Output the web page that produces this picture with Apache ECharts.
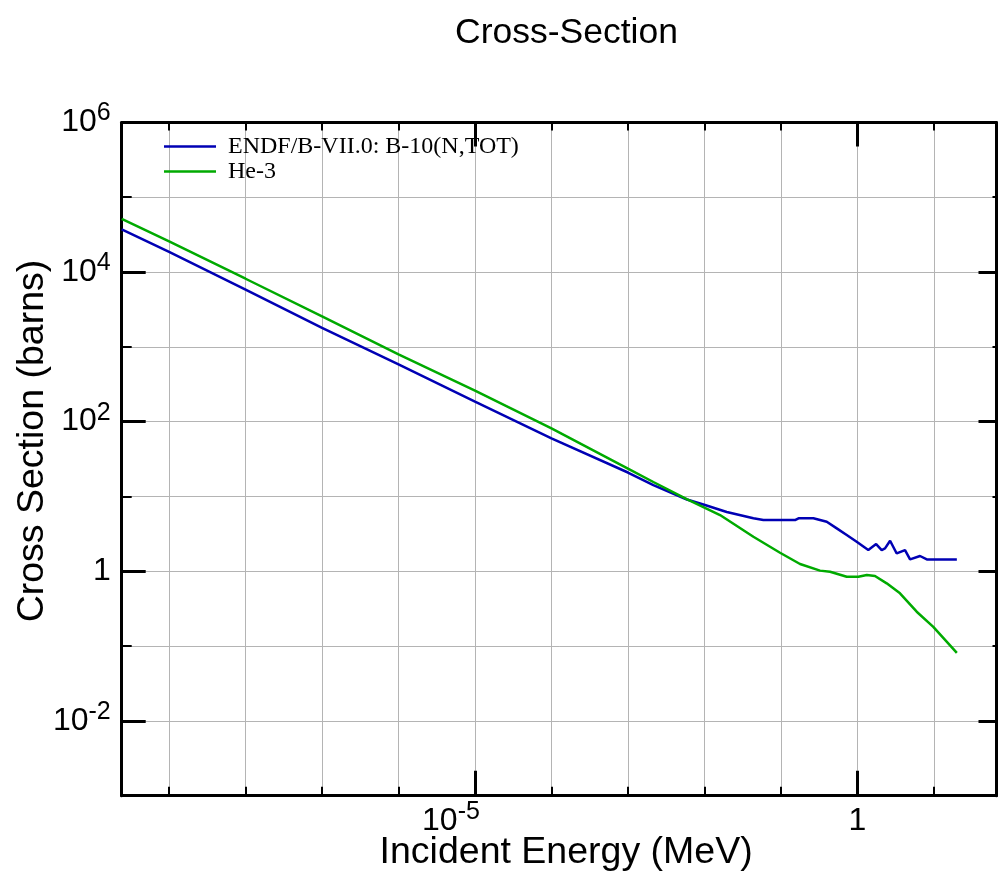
<!DOCTYPE html>
<html>
<head>
<meta charset="utf-8">
<title>Cross-Section</title>
<script src="https://cdn.jsdelivr.net/npm/echarts@6/dist/echarts.min.js"></script>
<style>
  html, body { margin: 0; padding: 0; background: #ffffff; }
  #chart { width: 998px; height: 877px; }
</style>
</head>
<body>
<div id="chart"></div>
<script>
// Incident energy (MeV) and total cross section (barns) for each curve
const energyB10 = [2.4e-10, 1e-9, 1e-8, 1e-7, 1e-6, 1e-5, 1e-4, 1e-3, 2.15e-3, 5.9e-3, 9.7e-3, 1.96e-2, 4.37e-2, 5.9e-2,
  0.153, 0.17, 0.266, 0.398, 0.538, 0.726, 0.98, 1.39, 1.76, 2.08, 2.3, 2.68, 3.27, 4.2, 4.89, 6.6, 8.1, 20];
const sigmaB10 = [37200, 18600, 5800, 1790, 583, 185, 59.6, 20.9, 14.2, 9.1, 7.8, 6.2, 5.1, 4.83,
  4.83, 5.1, 5.1, 4.59, 3.74, 3.05, 2.48, 1.92, 2.31, 1.92, 2.02, 2.56, 1.73, 1.92, 1.44, 1.6, 1.44, 1.44];

const energyHe3 = [2.4e-10, 1e-9, 1e-8, 1e-7, 1e-6, 1e-5, 1e-4, 1e-3, 2.15e-3, 5.87e-3, 1.6e-2, 4.37e-2, 9.75e-2,
  0.178, 0.325, 0.44, 0.726, 1.03, 1.33, 1.70, 2.42, 3.61, 5.97, 9.84, 20];
const sigmaHe3 = [51200, 25600, 8130, 2560, 794, 259, 81.3, 23.6, 15.6, 9.2, 5.64, 2.89, 1.77,
  1.25, 1.02, 0.985, 0.843, 0.843, 0.889, 0.863, 0.689, 0.507, 0.288, 0.181, 0.081];

const seriesNames = ['ENDF/B-VII.0: B-10(N,TOT)', 'He-3'];
const seriesColors = ['#0000b4', '#00aa00'];

// Axis ranges and tick positions
const xMin = 2.4e-10, xMax = 66;
const yMin = 1e-3, yMax = 1e6;
const xDecades = [1e-9, 1e-8, 1e-7, 1e-6, 1e-5, 1e-4, 1e-3, 1e-2, 1e-1, 1, 10];
const xLabelTicks = [1e-5, 1];
const yDecades = [1e-3, 1e-2, 1e-1, 1, 10, 1e2, 1e3, 1e4, 1e5, 1e6];
const yLabelTicks = [1e-2, 1, 1e2, 1e4, 1e6];

const FONT = '"Liberation Sans", Arial, Helvetica, sans-serif';
const SERIF = '"Liberation Serif", "Times New Roman", serif';

function pairs(xs, ys) {
  return xs.map((x, i) => [x, ys[i]]);
}

// "10" with a raised exponent; plain "1" for 10^0
function powerLabel(v, trailingGap) {
  const e = Math.round(Math.log10(v));
  if (e === 0) return '{b|1}';
  return '{b|10}{s|' + e + '}' + (trailingGap ? '{g|}' : '');
}

const richLabel = {
  b: { fontSize: 32, fontFamily: FONT, color: '#000', lineHeight: 34, padding: [9, 0, 9, 0] },
  s: { fontSize: 25, fontFamily: FONT, color: '#000', lineHeight: 34, padding: [0, 0, 18, 0] },
  g: { width: 48 }
};

const gridLine = { show: true, lineStyle: { color: '#b4b4b4', width: 1 } };
const blackLine = { show: true, lineStyle: { color: '#000', width: 3 } };

function axisDef(kind, position, values, tickLen, tickWidth, opts) {
  return Object.assign({
    type: 'log', logBase: 10,
    min: kind === 'x' ? xMin : yMin,
    max: kind === 'x' ? xMax : yMax,
    position: position,
    axisLine: { show: false },
    axisTick: { show: true, inside: true, length: tickLen, customValues: values,
      lineStyle: { color: '#000', width: tickWidth } },
    axisLabel: { show: false },
    splitLine: { show: false },
    minorTick: { show: false }, minorSplitLine: { show: false }
  }, opts || {});
}

const chart = echarts.init(document.getElementById('chart'), null, { renderer: 'canvas' });

chart.setOption({
  backgroundColor: '#ffffff',
  animation: false,
  title: {
    text: 'Cross-Section',
    left: 450, top: 10,
    textStyle: { fontFamily: FONT, fontSize: 35.5, fontWeight: 'normal', color: '#000' }
  },
  legend: {
    orient: 'vertical',
    left: 159, top: 129,
    padding: 5,
    itemWidth: 52, itemHeight: 2.5, itemGap: 0,
    icon: 'rect',
    data: seriesNames,
    textStyle: { fontFamily: SERIF, fontSize: 24, color: '#000', lineHeight: 23, padding: [0, 0, 2, 7] }
  },
  grid: { left: 121.7, right: 1.5, top: 122.4, bottom: 81.3, containLabel: false },
  xAxis: [
    // bottom: decade grid lines and short ticks
    axisDef('x', 'bottom', xDecades, 9, 2, {
      axisLine: blackLine, splitLine: gridLine,
      name: 'Incident Energy (MeV)', nameLocation: 'middle', nameGap: 38,
      nameTextStyle: { fontFamily: FONT, fontSize: 37.5, color: '#000', padding: [0, 0, 0, 14] }
    }),
    // bottom: labelled long ticks
    axisDef('x', 'bottom', xLabelTicks, 25, 3, {
      axisLabel: { show: true, customValues: xLabelTicks, margin: 8,
        formatter: (v) => powerLabel(v, true), rich: richLabel }
    }),
    // top mirror
    axisDef('x', 'top', xDecades, 8, 2, { axisLine: blackLine }),
    axisDef('x', 'top', xLabelTicks, 24, 3)
  ],
  yAxis: [
    // left: decade grid lines and short ticks
    axisDef('y', 'left', yDecades, 10, 2, {
      axisLine: blackLine, splitLine: gridLine,
      name: 'Cross Section (barns)', nameLocation: 'middle', nameGap: 70,
      nameTextStyle: { fontFamily: FONT, fontSize: 37.5, color: '#000', padding: [0, 0, 0, 36] }
    }),
    // left: labelled long ticks
    axisDef('y', 'left', yLabelTicks, 24, 3, {
      axisLabel: { show: true, customValues: yLabelTicks, margin: 11,
        formatter: (v) => powerLabel(v, false), rich: richLabel }
    }),
    // right mirror
    axisDef('y', 'right', yDecades, 4, 2, { axisLine: blackLine }),
    axisDef('y', 'right', yLabelTicks, 18, 3)
  ],
  series: [
    {
      name: seriesNames[0], type: 'line', xAxisIndex: 0, yAxisIndex: 0,
      data: pairs(energyB10, sigmaB10),
      showSymbol: false, symbol: 'none',
      lineStyle: { color: seriesColors[0], width: 2.5 },
      itemStyle: { color: seriesColors[0] }
    },
    {
      name: seriesNames[1], type: 'line', xAxisIndex: 0, yAxisIndex: 0,
      data: pairs(energyHe3, sigmaHe3),
      showSymbol: false, symbol: 'none',
      lineStyle: { color: seriesColors[1], width: 2.5 },
      itemStyle: { color: seriesColors[1] }
    }
  ]
});
</script>
</body>
</html>
